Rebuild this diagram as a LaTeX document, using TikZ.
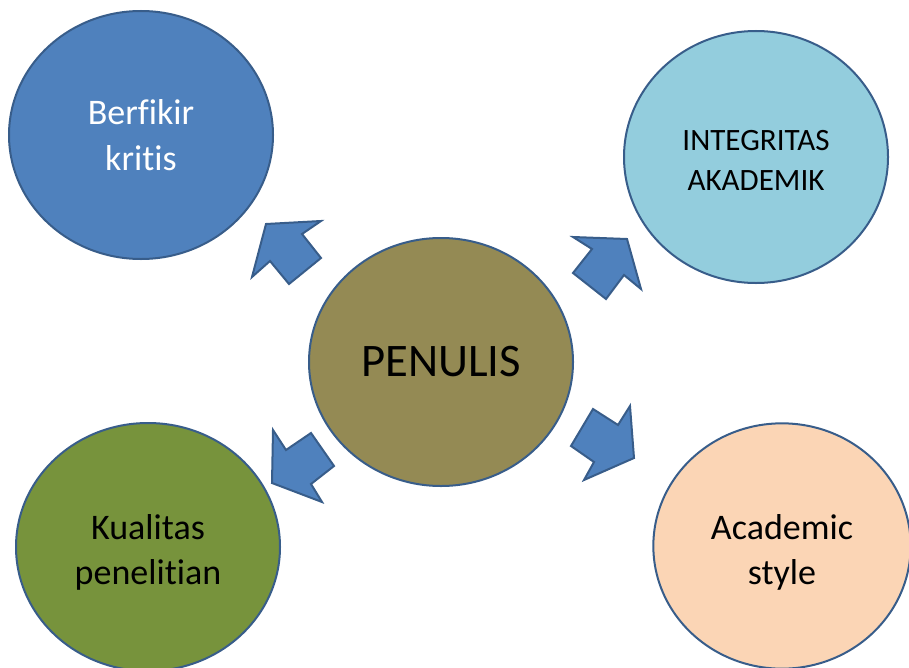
\documentclass[tikz,border=0pt]{standalone}
\usepackage{fontspec}
\setmainfont{Carlito}[RawFeature={-liga;-clig}]
\usetikzlibrary{shapes.geometric}
\definecolor{edgeblue}{HTML}{385D8A}
\definecolor{midblue}{HTML}{4F81BD}
\definecolor{aqua}{HTML}{93CDDD}
\definecolor{olive}{HTML}{948A54}
\definecolor{leaf}{HTML}{77933C}
\definecolor{peach}{HTML}{FBD5B5}
\tikzset{
  bubble/.style={ellipse, draw=edgeblue, line width=1.5pt, inner sep=0pt,
    align=center, minimum width=198pt, minimum height=186pt},
  blockarrow/.style={draw=edgeblue, fill=midblue, line width=1.5pt, line join=miter}
}
\begin{document}
\begin{tikzpicture}[x=0.75pt, y=-0.75pt]
\useasboundingbox (0,0) rectangle (909,667);
\clip (0,0) rectangle (909,667);
\node[bubble, fill=midblue, text=white, font=\fontsize{27}{34}\selectfont] (berfikir) at (141,135) {Berfikir\\kritis};
\node[bubble, fill=aqua, minimum height=189pt, font=\fontsize{23.3}{30}\selectfont] (integritas) at (756,157) {\rule{0pt}{20pt}INTEGRITAS\\AKADEMIK};
\node[bubble, fill=olive, font=\fontsize{35}{42}\selectfont] (penulis) at (441,362) {PENULIS};
\node[bubble, fill=leaf, font=\fontsize{27}{34}\selectfont] (kualitas) at (148,547) {\rule{0pt}{27pt}Kualitas\\penelitian};
\node[bubble, fill=peach, minimum width=193pt, minimum height=184pt, font=\fontsize{27}{34}\selectfont] (academic) at (782,546) {\rule{0pt}{28pt}Academic\\style};
% block arrows from PENULIS
\draw[blockarrow] (266,224) -- (321,221) -- (302,234) -- (321,258) -- (289,284) -- (270,261) -- (252,277) -- cycle;
\draw[blockarrow] (627,239) -- (641,289) -- (624,275) -- (606,299) -- (573,273) -- (592,249) -- (573,237) -- cycle;
\draw[blockarrow] (272,483) -- (273,430) -- (286,450) -- (311,433) -- (334,466) -- (311,484) -- (322,502) -- cycle;
\draw[blockarrow] (634,458) -- (630,406) -- (618,425) -- (593,409) -- (571,446) -- (594,462) -- (584,480) -- cycle;
\end{tikzpicture}
\end{document}
